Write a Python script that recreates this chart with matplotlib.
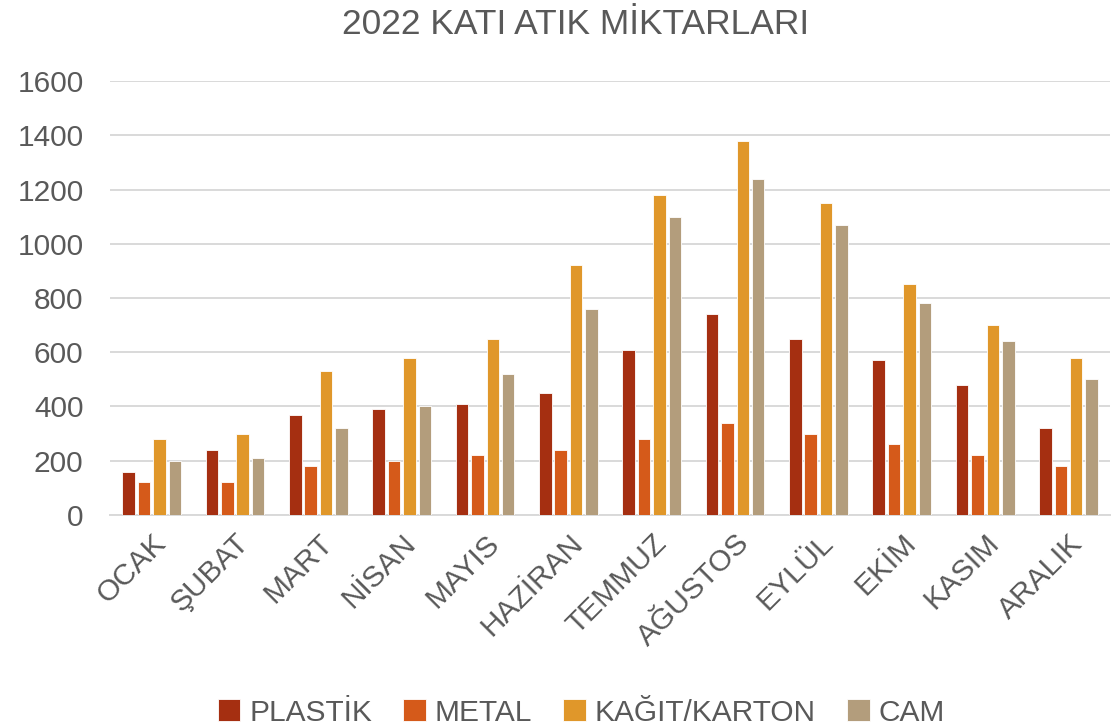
import numpy as np
import matplotlib.pyplot as plt

plt.rcParams['font.family'] = ['Liberation Sans', 'DejaVu Sans']

months = ['OCAK', 'ŞUBAT', 'MART', 'NİSAN', 'MAYIS', 'HAZİRAN', 'TEMMUZ',
          'AĞUSTOS', 'EYLÜL', 'EKİM', 'KASIM', 'ARALIK']
plastik = [160, 240, 370, 390, 410, 450, 610, 740, 650, 570, 480, 320]
metal = [120, 120, 180, 200, 220, 240, 280, 340, 300, 260, 220, 180]
kagit = [280, 300, 530, 580, 650, 920, 1180, 1380, 1150, 850, 700, 580]
cam = [200, 210, 320, 400, 520, 760, 1100, 1240, 1070, 780, 640, 500]

series = [('PLASTİK', plastik, '#A52F11'),
          ('METAL', metal, '#D55A1A'),
          ('KAĞIT/KARTON', kagit, '#E0972A'),
          ('CAM', cam, '#B39D7C')]

txt = '#595959'
fig = plt.figure(figsize=(11.18, 7.28), dpi=100)
ax = fig.add_axes([0.0984, 0.2926, 0.8946, 0.5961])

x = np.arange(len(months))
w = 0.15
step = 0.185
for i, (name, vals, col) in enumerate(series):
    ax.bar(x + (i - 1.5) * step, vals, w, color=col, label=name,
           edgecolor='white', linewidth=0.6, zorder=3)

ax.set_xlim(-0.5, len(months) - 0.5)
ax.set_ylim(0, 1600)
ax.set_yticks(range(0, 1601, 200))
ax.grid(axis='y', color='#d9d9d9', linewidth=1.4, zorder=0)
for s in ['top', 'right', 'left']:
    ax.spines[s].set_visible(False)
ax.spines['bottom'].set_color('#d9d9d9')
ax.spines['bottom'].set_linewidth(1.4)
ax.tick_params(length=0, labelsize=21.5, colors=txt)
ax.tick_params(axis='y', pad=19)
ax.tick_params(axis='x', pad=10)
ax.set_xticks(x)
ax.set_xticklabels(months, rotation=45, ha='right', rotation_mode='anchor')

fig.text(0.515, 0.966, '2022 KATI ATIK MİKTARLARI', fontsize=25.5, color=txt,
         ha='center', va='center')

fig.legend(loc='lower center', ncol=4, frameon=False, fontsize=21.5,
           labelcolor=txt, handlelength=0.75, handleheight=0.75,
           handletextpad=0.3, columnspacing=1.05, bbox_to_anchor=(0.52, -0.035))

fig.savefig('out.png', dpi=100)
